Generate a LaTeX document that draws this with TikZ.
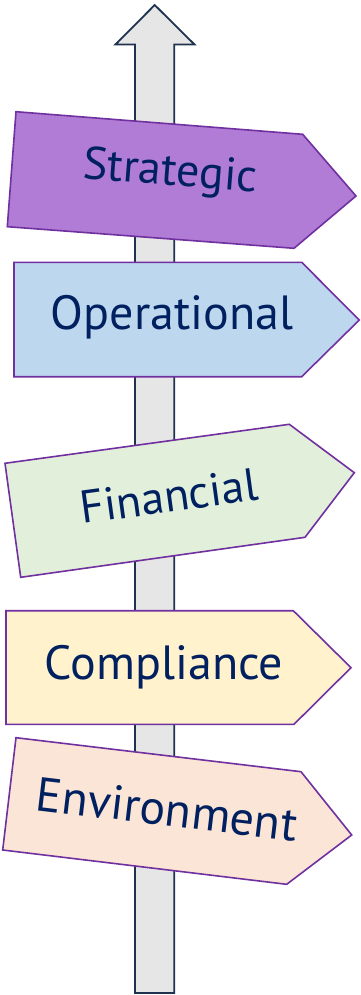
\documentclass[tikz,border=0pt]{standalone}
\usepackage{fontspec}
\setmainfont{PT Sans}
\definecolor{navy}{HTML}{002060}
\definecolor{poleline}{HTML}{1F3350}
\definecolor{polefill}{HTML}{E6E6E6}
\definecolor{signline}{HTML}{7030A0}
\definecolor{fstrat}{HTML}{B07CD6}
\definecolor{foper}{HTML}{BDD7EE}
\definecolor{ffin}{HTML}{E2EFDA}
\definecolor{fcomp}{HTML}{FFF2CC}
\definecolor{fenv}{HTML}{FBE5D6}
\begin{document}
\begin{tikzpicture}[x=1pt,y=-1pt,
  sign/.style={draw=signline,line width=1.6pt,line join=miter},
  pole/.style={draw=poleline,fill=polefill,line width=1.8pt,line join=miter},
  lbl/.style={text=navy,font=\fontsize{48}{52}\selectfont,inner sep=0pt},
  lbls/.style={lbl,font=\fontsize{46}{50}\selectfont}]
\useasboundingbox (0,0) rectangle (360,995);
% pole
\draw[pole] (135,993) -- (135,44.5) -- (115.5,44.5) -- (154.7,5) -- (194.5,44.5) -- (174.3,44.5) -- (174.3,993) -- cycle;
% Strategic
\draw[sign,fill=fstrat] (16,111.7) -- (302.7,134.3) -- (356,196) -- (294,248.3) -- (7.3,226.7) -- cycle;
\node[lbls,rotate=-4.5] (strategic) at (170,174) {Strategic};
% Operational
\draw[sign,fill=foper] (14,262.3) -- (301.7,262.3) -- (359.3,320) -- (301.7,376.7) -- (14,376.7) -- cycle;
\node[lbl] (operational) at (172,317) {Operational};
% Financial
\draw[sign,fill=ffin] (5,463.3) -- (289.3,424.3) -- (354.3,472.7) -- (305,537.3) -- (20.7,577.3) -- cycle;
\node[lbls,rotate=7.8] (financial) at (169,496) {Financial};
% Compliance
\draw[sign,fill=fcomp] (6,610.7) -- (293.3,610.7) -- (351,667.7) -- (294,724.3) -- (6,724.3) -- cycle;
\node[lbl] (compliance) at (164,667) {Compliance};
% Environment
\draw[sign,fill=fenv] (16,737.7) -- (301,771.7) -- (351.7,835) -- (286.7,884.3) -- (2.7,850) -- cycle;
\node[lbl,rotate=-6.8] (environment) at (167,809) {Environment};
\end{tikzpicture}
\end{document}
